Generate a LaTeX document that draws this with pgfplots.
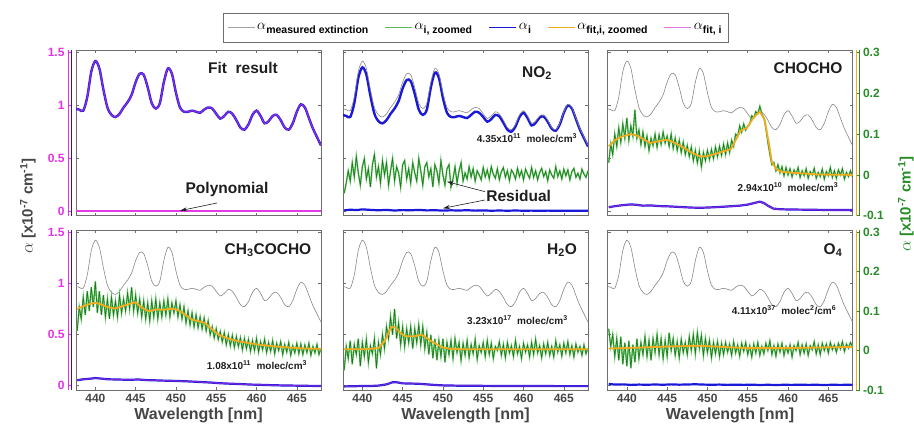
\documentclass[border=0pt]{standalone}
\usepackage{pgfplots}
\pgfplotsset{compat=1.18}
\usepackage{pgfplotstable}
\usepackage{fontspec}
\setmainfont{Liberation Sans}
\usetikzlibrary{arrows.meta}

\definecolor{meas}{RGB}{135,135,135}
\definecolor{gdark}{RGB}{25,120,25}
\definecolor{glight}{RGB}{110,200,110}
\definecolor{orng}{RGB}{240,172,30}
\definecolor{bl}{RGB}{25,25,215}
\definecolor{magc}{RGB}{230,60,230}
\definecolor{magT}{RGB}{230,50,230}
\definecolor{grT}{RGB}{40,140,40}
\definecolor{axgray}{RGB}{110,110,110}
\definecolor{lblgray}{RGB}{70,70,70}
\definecolor{txt}{RGB}{30,30,30}
\definecolor{lgG}{RGB}{90,185,90}
\definecolor{lgO}{RGB}{235,170,30}
\definecolor{lgM}{RGB}{230,120,230}
\definecolor{lgK}{RGB}{160,160,160}

\pgfplotstableread{
wl meas no2
437.5 0.97 0.91
438.0 0.96 0.90
438.5 0.95 0.89
439.0 1.08 1.02
439.5 1.32 1.26
440.0 1.42 1.36
440.5 1.35 1.29
441.0 1.15 1.09
441.5 0.98 0.92
442.0 0.91 0.85
442.5 0.89 0.83
443.0 0.92 0.86
443.5 0.98 0.92
444.0 1.03 0.97
444.5 1.10 1.04
445.0 1.22 1.16
445.5 1.30 1.24
446.0 1.29 1.23
446.5 1.17 1.11
447.0 1.02 0.96
447.5 0.97 0.91
448.0 1.02 0.96
448.5 1.22 1.17
449.0 1.35 1.31
449.5 1.30 1.26
450.0 1.12 1.07
450.5 0.98 0.93
451.0 0.94 0.89
451.5 0.94 0.89
452.0 0.95 0.90
452.5 0.94 0.89
453.0 0.93 0.88
453.5 0.96 0.91
454.0 0.98 0.94
454.5 0.97 0.93
455.0 0.92 0.89
455.5 0.875 0.845
456.0 0.90 0.87
456.5 0.94 0.91
457.0 0.92 0.895
457.5 0.86 0.835
458.0 0.79 0.77
458.5 0.77 0.75
459.0 0.82 0.80
459.5 0.91 0.89
460.0 0.95 0.93
460.5 0.90 0.88
461.0 0.83 0.81
461.5 0.85 0.835
462.0 0.90 0.885
462.5 0.91 0.895
463.0 0.86 0.845
463.5 0.79 0.78
464.0 0.77 0.76
464.5 0.83 0.82
465.0 0.94 0.93
465.5 1.01 1.00
466.0 0.98 0.97
466.5 0.88 0.87
467.0 0.78 0.77
467.5 0.70 0.69
468.0 0.62 0.61
}\meastab

\pgfplotstableread{
wl nores chocho mg h2o o4
437.75 -0.045 0.030 0.050 -0.050 0.055
438.00 -0.020 0.075 0.110 0.010 0.010
438.25 0.010 0.050 0.080 -0.020 0.040
438.50 -0.015 0.100 0.135 0.025 -0.015
438.75 0.030 0.070 0.090 -0.035 0.030
439.00 -0.005 0.115 0.150 0.015 -0.025
439.25 0.045 0.080 0.100 -0.010 0.035
439.50 0.005 0.125 0.160 0.030 -0.035
439.75 -0.025 0.090 0.110 -0.040 0.020
440.00 0.020 0.140 0.175 0.020 -0.040
440.25 0.040 0.085 0.095 -0.015 0.025
440.50 -0.010 0.120 0.150 0.028 -0.045
440.75 0.015 0.095 0.090 -0.030 0.015
441.00 -0.030 0.160 0.140 0.012 -0.030
441.25 0.025 0.090 0.085 -0.008 0.030
441.50 0.050 0.110 0.130 0.030 -0.020
441.75 -0.005 0.075 0.080 -0.045 0.020
442.00 0.020 0.105 0.135 0.020 -0.010
442.25 -0.020 0.070 0.090 -0.010 0.035
442.50 0.035 0.095 0.125 0.040 -0.015
442.75 0.000 0.060 0.085 0.005 0.025
443.00 0.030 0.090 0.140 0.060 -0.025
443.25 -0.025 0.072 0.095 0.030 0.030
443.50 0.010 0.100 0.130 0.085 -0.005
443.75 0.040 0.068 0.100 0.040 0.040
444.00 -0.015 0.098 0.145 0.105 -0.010
444.25 0.020 0.075 0.105 0.030 0.030
444.50 0.005 0.105 0.160 0.070 -0.020
444.75 -0.030 0.078 0.100 0.015 0.025
445.00 0.025 0.095 0.140 0.060 -0.015
445.25 0.035 0.070 0.095 0.010 0.045
445.50 -0.010 0.100 0.130 0.055 0.000
445.75 0.015 0.065 0.085 0.020 0.030
446.00 -0.020 0.090 0.125 0.060 -0.012
446.25 0.030 0.060 0.080 0.005 0.022
446.50 0.005 0.085 0.120 0.055 -0.018
446.75 -0.015 0.055 0.075 0.020 0.028
447.00 0.040 0.080 0.125 0.065 -0.005
447.25 0.010 0.050 0.085 0.015 0.020
447.50 -0.025 0.072 0.130 0.060 -0.010
447.75 0.020 0.045 0.080 0.005 0.035
448.00 0.030 0.068 0.120 0.045 0.000
448.25 -0.005 0.035 0.085 -0.010 0.040
448.50 0.015 0.060 0.125 0.040 -0.008
448.75 -0.030 0.030 0.090 -0.020 0.045
449.00 0.025 0.058 0.130 0.030 0.005
449.25 0.010 0.020 0.085 -0.025 0.038
449.50 -0.020 0.055 0.120 0.025 -0.012
449.75 0.035 0.035 0.095 -0.015 0.030
450.00 0.000 0.060 0.125 0.030 -0.005
450.25 -0.025 0.038 0.085 -0.030 0.025
450.50 0.015 0.062 0.115 0.020 -0.018
450.75 0.025 0.040 0.080 -0.010 0.020
451.00 -0.030 0.068 0.110 0.025 -0.008
451.25 -0.010 0.045 0.070 -0.020 0.022
451.50 0.020 0.070 0.100 0.030 -0.015
451.75 -0.020 0.048 0.065 -0.005 0.018
452.00 0.010 0.075 0.095 0.020 -0.010
452.25 0.030 0.050 0.060 -0.025 0.020
452.50 -0.015 0.078 0.090 0.018 -0.004
452.75 0.005 0.055 0.058 -0.012 0.016
453.00 -0.010 0.085 0.085 0.025 -0.012
453.25 0.020 0.070 0.055 -0.018 0.022
453.50 -0.005 0.100 0.082 0.015 -0.006
453.75 0.015 0.095 0.050 -0.008 0.014
454.00 -0.015 0.120 0.075 0.028 -0.014
454.25 0.010 0.105 0.040 -0.022 0.018
454.50 0.000 0.125 0.060 0.012 -0.002
454.75 -0.012 0.110 0.032 -0.005 0.020
455.00 0.018 0.120 0.055 0.020 -0.010
455.25 -0.005 0.125 0.028 -0.015 0.012
455.50 0.012 0.145 0.048 0.025 -0.016
455.75 -0.010 0.140 0.022 -0.010 0.016
456.00 0.020 0.155 0.045 0.018 -0.006
456.25 0.002 0.150 0.015 -0.020 0.020
456.50 -0.008 0.168 0.040 0.010 -0.012
456.75 0.015 0.150 0.012 0.000 0.010
457.00 -0.012 0.140 0.038 0.022 -0.008
457.25 0.008 0.115 0.008 -0.012 0.018
457.50 0.018 0.080 0.035 0.015 0.000
457.75 -0.006 0.050 0.010 -0.018 0.024
458.00 0.010 0.025 0.032 0.020 -0.010
458.25 -0.014 0.030 0.002 -0.006 0.012
458.50 0.012 0.010 0.030 0.012 -0.014
458.75 0.004 0.025 0.005 -0.015 0.016
459.00 -0.010 0.005 0.028 0.025 -0.004
459.25 0.016 0.020 -0.002 -0.008 0.018
459.50 -0.004 -0.002 0.025 0.010 -0.012
459.75 0.010 0.018 0.000 -0.020 0.010
460.00 -0.012 0.000 0.030 0.018 -0.006
460.25 0.014 0.015 -0.004 -0.004 0.014
460.50 0.002 -0.005 0.022 0.014 -0.016
460.75 -0.008 0.012 0.002 -0.016 0.012
461.00 0.018 0.002 0.028 0.020 0.000
461.25 -0.006 0.018 -0.005 -0.010 0.020
461.50 0.010 -0.006 0.020 0.028 -0.010
461.75 -0.012 0.010 -0.002 -0.006 0.014
462.00 0.006 -0.002 0.025 0.012 -0.006
462.25 0.016 0.015 -0.008 -0.018 0.016
462.50 -0.004 -0.008 0.018 0.016 -0.012
462.75 0.008 0.008 0.000 -0.008 0.012
463.00 -0.014 0.000 0.022 0.020 0.002
463.25 0.012 0.016 -0.010 -0.012 0.022
463.50 0.000 -0.008 0.015 0.010 -0.008
463.75 -0.008 0.006 -0.004 -0.016 0.014
464.00 0.020 -0.004 0.020 0.024 -0.010
464.25 -0.004 0.014 -0.012 -0.004 0.018
464.50 0.010 -0.010 0.012 0.014 0.000
464.75 -0.010 0.008 -0.006 -0.014 0.016
465.00 0.014 -0.002 0.018 0.018 -0.006
465.25 -0.002 0.018 -0.008 -0.006 0.020
465.50 0.012 -0.006 0.016 0.022 0.002
465.75 -0.012 0.010 -0.010 -0.010 0.014
466.00 0.008 -0.008 0.014 0.012 -0.004
466.25 0.016 0.012 -0.005 -0.016 0.018
466.50 -0.006 0.000 0.018 0.016 0.004
466.75 0.004 0.015 -0.012 -0.004 0.022
467.00 -0.010 -0.010 0.010 0.010 -0.002
467.25 0.014 0.006 -0.006 -0.012 0.016
467.50 0.002 -0.004 0.015 0.014 0.006
467.75 -0.006 0.010 -0.010 -0.008 0.020
468.00 0.010 -0.005 0.006 0.006 0.010
}\greentab

\newcommand{\la}[1]{{\fontsize{14}{14}\selectfont$\alpha$}\raisebox{-3.5pt}{\fontsize{10.5}{10.5}\selectfont\bfseries #1}}

\pgfplotsset{
  base/.style={scale only axis, width=245pt, xmin=437.6, xmax=468, anchor=south west,
    tick label style={font=\bfseries\fontsize{12}{12}\selectfont}},
  lscale/.style={base, ymin=-0.045, ymax=1.52,
    xtick={440,445,...,465}, ytick={0,0.5,1,1.5}, yticklabel=\empty, xticklabel=\empty,
    tick align=inside, major tick length=3pt,
    axis line style={axgray, line width=0.6pt}, tick style={axgray, line width=0.5pt}},
  rscale/.style={base, ymin=-0.1, ymax=0.305, hide axis, clip=false},
  rgreen/.style={base, ymin=-0.1, ymax=0.305, clip=false,
    axis x line=none, axis y line*=right, axis y line shift=7pt, xtick=\empty,
    ytick={-0.1,0,0.1,0.2,0.3}, yticklabels={-0.1,0,0.1,0.2,0.3},
    y axis line style={grT, line width=0.8pt}, ytick style={grT, line width=0.6pt},
    yticklabel style={text=grT}, tick align=inside, major tick length=4pt,
    after end axis/.code={\draw[orng, line width=0.8pt] ([xshift=3.5pt]rel axis cs:1,0) -- ([xshift=3.5pt]rel axis cs:1,1);}},
  magaxis/.style={base, ymin=-0.045, ymax=1.52, clip=false,
    axis x line=none, axis y line*=left, axis y line shift=8pt, xtick=\empty,
    ytick={0,0.5,1,1.5}, yticklabels={0,0.5,1,1.5},
    y axis line style={magT, line width=0.8pt}, ytick style={magT, line width=0.6pt},
    yticklabel style={text=magT}, tick align=inside, major tick length=4pt,
    after end axis/.code={\draw[bl, line width=0.8pt] ([xshift=-5pt]rel axis cs:0,0) -- ([xshift=-5pt]rel axis cs:0,1);}},
  bottomrow/.style={xticklabels={440,445,450,455,460,465},
    xticklabel style={text=lblgray, yshift=-1pt},
    xlabel={Wavelength [nm]}, xlabel style={font=\bfseries\fontsize{16}{16}\selectfont, text=lblgray, yshift=2pt}},
  gplot/.style={color=glight, line width=1.6pt},
  gplotd/.style={color=gdark, line width=0.6pt},
}

\begin{document}
\begin{tikzpicture}[x=1pt,y=1pt]
\useasboundingbox (0,0) rectangle (914,433);

% ===== Top-left: Fit result =====
\begin{axis}[lscale, at={(76pt,217.3pt)}, height=165.2pt]
\addplot[color=meas, line width=0.6pt, smooth] table[x=wl,y=meas]{\meastab};
\addplot[color=bl, line width=2.4pt, smooth] table[x=wl,y=meas]{\meastab};
\addplot[color=magc, line width=1.3pt, opacity=0.55, smooth] table[x=wl,y=meas]{\meastab};
\addplot[color=magc, line width=2pt] coordinates {(437.6,-0.004)(468,-0.004)};
\end{axis}
\begin{axis}[magaxis, at={(76pt,217.3pt)}, height=165.2pt]
\end{axis}

% ===== Top-middle: NO2 =====
\begin{axis}[lscale, at={(343pt,217.3pt)}, height=165.2pt]
\addplot[color=bl, line width=2.4pt, smooth] table[x=wl,y=no2]{\meastab};
\addplot[color=meas, line width=0.6pt, smooth] table[x=wl,y=meas]{\meastab};
\addplot[color=bl, line width=2.2pt] coordinates {(437.75,0.005)(438.5,0.012)(439.3,0.008)(440,0.015)(441,0.010)(442,0.006)(443,0.010)(444,0.004)(445,0.008)(446,0.006)(447,0.010)(448,0.005)(449,0.007)(450,0.003)(451,0.006)(452,0.004)(453,0.007)(454,0.003)(455,0.005)(456,0.002)(457,0.004)(458,0.002)(459,0.004)(460,0.002)(461,0.003)(462,0.001)(463,0.003)(464,0.001)(465,0.002)(466,0.001)(467,0.002)(468,0.001)};
\end{axis}
\begin{axis}[rscale, at={(343pt,217.3pt)}, height=165.2pt]
\addplot[gplot] table[x=wl,y=nores]{\greentab};
\addplot[gplotd] table[x=wl,y=nores]{\greentab};
\end{axis}

% ===== Top-right: CHOCHO =====
\begin{axis}[lscale, at={(607.5pt,217.3pt)}, height=165.2pt]
\addplot[color=meas, line width=0.6pt, smooth] table[x=wl,y=meas]{\meastab};
\addplot[color=bl, line width=2.2pt] coordinates {(437.75,0.035)(438.5,0.045)(439.5,0.055)(440.5,0.062)(441.2,0.058)(442,0.050)(443,0.052)(444,0.046)(445,0.044)(446,0.040)(447,0.036)(448,0.032)(449,0.030)(450,0.032)(451,0.036)(452,0.040)(453,0.045)(454,0.050)(455,0.060)(455.8,0.075)(456.5,0.088)(457,0.075)(457.6,0.045)(458.2,0.022)(459,0.016)(460,0.014)(462,0.012)(464,0.010)(466,0.009)(468,0.008)};
\addplot[color=magc, line width=1.2pt, opacity=0.5] coordinates {(437.75,0.035)(438.5,0.045)(439.5,0.055)(440.5,0.062)(441.2,0.058)(442,0.050)(443,0.052)(444,0.046)(445,0.044)(446,0.040)(447,0.036)(448,0.032)(449,0.030)(450,0.032)(451,0.036)(452,0.040)(453,0.045)(454,0.050)(455,0.060)(455.8,0.075)(456.5,0.088)(457,0.075)(457.6,0.045)(458.2,0.022)(459,0.016)(460,0.014)(462,0.012)(464,0.010)(466,0.009)(468,0.008)};
\end{axis}
\begin{axis}[rgreen, at={(607.5pt,217.3pt)}, height=165.2pt]
\addplot[gplot] table[x=wl,y=chocho]{\greentab};
\addplot[gplotd] table[x=wl,y=chocho]{\greentab};
\addplot[color=orng, line width=1.8pt] coordinates {(437.75,0.070)(438.5,0.085)(439.5,0.095)(440.5,0.100)(441.3,0.096)(442,0.088)(442.9,0.078)(444,0.083)(445,0.086)(446,0.078)(447.1,0.066)(448,0.055)(449.1,0.045)(450,0.046)(451.2,0.053)(452,0.058)(452.9,0.063)(453.5,0.085)(454.1,0.108)(454.9,0.115)(455.7,0.140)(456.5,0.155)(457.1,0.135)(457.6,0.080)(458,0.032)(458.5,0.015)(459.1,0.008)(460,0.006)(461.6,0.004)(463.7,0.001)(468,0.000)};
\end{axis}

% ===== Bottom-left: CH3COCHO =====
\begin{axis}[lscale, bottomrow, at={(76pt,43pt)}, height=160pt]
\addplot[color=meas, line width=0.6pt, smooth] table[x=wl,y=meas]{\meastab};
\addplot[color=bl, line width=2.2pt] coordinates {(437.75,0.050)(438.5,0.060)(439.3,0.065)(440,0.072)(440.8,0.066)(441.5,0.060)(442.5,0.058)(443.5,0.056)(444.5,0.055)(445.3,0.058)(446.3,0.052)(447.3,0.050)(448.3,0.047)(449.3,0.045)(450.3,0.043)(451.3,0.040)(452.3,0.036)(453.3,0.032)(454.3,0.028)(455.3,0.022)(456.3,0.018)(457.3,0.015)(458.3,0.012)(459.3,0.008)(460.3,0.006)(461.5,0.003)(463,0.000)(464.5,-0.002)(466,-0.004)(468,-0.006)};
\addplot[color=magc, line width=1.2pt, opacity=0.45] coordinates {(437.75,0.050)(438.5,0.060)(439.3,0.065)(440,0.072)(440.8,0.066)(441.5,0.060)(442.5,0.058)(443.5,0.056)(444.5,0.055)(445.3,0.058)(446.3,0.052)(447.3,0.050)(448.3,0.047)(449.3,0.045)(450.3,0.043)(451.3,0.040)(452.3,0.036)(453.3,0.032)(454.3,0.028)(455.3,0.022)(456.3,0.018)(457.3,0.015)(458.3,0.012)(459.3,0.008)(460.3,0.006)(461.5,0.003)(463,0.000)(464.5,-0.002)(466,-0.004)(468,-0.006)};
\end{axis}
\begin{axis}[rscale, at={(76pt,43pt)}, height=160pt]
\addplot[gplot] table[x=wl,y=mg]{\greentab};
\addplot[gplotd] table[x=wl,y=mg]{\greentab};
\addplot[color=orng, line width=1.8pt] coordinates {(437.75,0.105)(438.5,0.112)(439.3,0.118)(440,0.121)(440.8,0.116)(441.5,0.110)(442.5,0.106)(443.3,0.112)(444.2,0.118)(445,0.122)(445.8,0.108)(446.6,0.099)(447.5,0.104)(448.5,0.103)(449.5,0.106)(450.3,0.102)(451.2,0.090)(452,0.078)(452.8,0.074)(453.6,0.070)(454.4,0.055)(455.3,0.040)(456.5,0.030)(457.8,0.023)(459,0.019)(460.2,0.015)(461.5,0.012)(463,0.009)(464.5,0.007)(466,0.005)(468,0.004)};
\end{axis}
\begin{axis}[magaxis, at={(76pt,43pt)}, height=160pt]
\end{axis}

% ===== Bottom-middle: H2O =====
\begin{axis}[lscale, bottomrow, at={(343pt,43pt)}, height=160pt]
\addplot[color=meas, line width=0.6pt, smooth] table[x=wl,y=meas]{\meastab};
\addplot[color=bl, line width=2.2pt] coordinates {(437.75,-0.010)(439,-0.008)(440,-0.006)(441,-0.006)(442,-0.002)(443,0.010)(443.8,0.032)(444.3,0.030)(445,0.020)(446,0.018)(447,0.016)(448,0.010)(449,0.004)(450,0.000)(452,-0.003)(454,-0.004)(456,-0.005)(458,-0.005)(460,-0.006)(462,-0.006)(464,-0.007)(466,-0.007)(468,-0.007)};
\addplot[color=magc, line width=1.2pt, opacity=0.4] coordinates {(437.75,-0.010)(439,-0.008)(440,-0.006)(441,-0.006)(442,-0.002)(443,0.010)(443.8,0.032)(444.3,0.030)(445,0.020)(446,0.018)(447,0.016)(448,0.010)(449,0.004)(450,0.000)(452,-0.003)(454,-0.004)(456,-0.005)(458,-0.005)(460,-0.006)(462,-0.006)(464,-0.007)(466,-0.007)(468,-0.007)};
\end{axis}
\begin{axis}[rscale, at={(343pt,43pt)}, height=160pt]
\addplot[gplot] table[x=wl,y=h2o]{\greentab};
\addplot[gplotd] table[x=wl,y=h2o]{\greentab};
\addplot[color=orng, line width=1.8pt] coordinates {(437.75,0.003)(440,0.003)(442,0.006)(442.8,0.025)(443.6,0.060)(444.1,0.058)(444.7,0.045)(445.3,0.036)(446.5,0.036)(447.4,0.040)(448.6,0.023)(449.9,0.008)(451,0.004)(452.8,0.003)(468,0.003)};
\end{axis}

% ===== Bottom-right: O4 =====
\begin{axis}[lscale, bottomrow, at={(607.5pt,43pt)}, height=160pt]
\addplot[color=meas, line width=0.6pt, smooth] table[x=wl,y=meas]{\meastab};
\addplot[color=bl, line width=2.2pt] coordinates {(437.75,0.015)(438.5,0.008)(439.5,0.010)(440.5,0.005)(441.5,0.008)(442.5,0.006)(443.5,0.009)(444.5,0.006)(445.5,0.010)(446.5,0.007)(447.5,0.009)(448.5,0.011)(449.5,0.008)(450.5,0.006)(451.5,0.008)(452.5,0.005)(453.5,0.007)(454.5,0.005)(455.5,0.007)(456.5,0.004)(457.5,0.006)(458.5,0.004)(459.5,0.006)(460.5,0.005)(461.5,0.007)(462.5,0.005)(463.5,0.006)(464.5,0.004)(465.5,0.006)(466.5,0.005)(467.5,0.006)(468,0.005)};
\end{axis}
\begin{axis}[rgreen, at={(607.5pt,43pt)}, height=160pt]
\addplot[gplot] table[x=wl,y=o4]{\greentab};
\addplot[gplotd] table[x=wl,y=o4]{\greentab};
\addplot[color=orng, line width=1.8pt] coordinates {(437.75,0.005)(441,0.007)(445,0.010)(449,0.012)(452,0.009)(455,0.006)(460,0.006)(465,0.008)(468,0.009)};
\end{axis}

% ===== Legend =====
\draw[axgray, fill=white, line width=0.7pt] (223,391) rectangle (728,420);
\begin{axis}[scale only axis, width=914pt, height=433pt, at={(0pt,0pt)}, anchor=south west,
  xmin=0, xmax=914, ymin=0, ymax=433, hide axis,
  legend columns=5,
  legend style={at={(axis description cs:0.5202,0.9365)}, anchor=center,
    draw=none, fill=none, inner xsep=0pt, inner ysep=1pt,
    font=\bfseries\fontsize{10.5}{12}\selectfont,
    /tikz/every even column/.append style={column sep=14pt}},
  legend cell align=left]
\addlegendimage{legend image code/.code={\draw[lgK, line width=0.9pt] (0pt,0pt) -- (27pt,0pt);}}
\addlegendentry{\la{measured extinction}}
\addlegendimage{legend image code/.code={\draw[lgG, line width=1.3pt] (0pt,0pt) -- (27pt,0pt);}}
\addlegendentry{\la{i, zoomed}}
\addlegendimage{legend image code/.code={\draw[bl, line width=1.8pt] (0pt,0pt) -- (27pt,0pt);}}
\addlegendentry{\la{i}}
\addlegendimage{legend image code/.code={\draw[lgO, line width=1.4pt] (0pt,0pt) -- (27pt,0pt);}}
\addlegendentry{\la{fit,i, zoomed}}
\addlegendimage{legend image code/.code={\draw[lgM, line width=1.3pt] (0pt,0pt) -- (27pt,0pt);}}
\addlegendentry{\la{fit, i}}
\end{axis}

% ===== Axis labels =====
\node[rotate=90, text=lblgray, font=\bfseries\fontsize{15}{15}\selectfont] at (28,227) {{\fontsize{17}{17}\selectfont$\alpha$} [x10\textsuperscript{-7} cm\textsuperscript{-1}]};
\node[rotate=90, text=grT, font=\bfseries\fontsize{15}{15}\selectfont] at (906,229) {{\fontsize{17}{17}\selectfont$\alpha$} [x10\textsuperscript{-7} cm\textsuperscript{-1}]};

% ===== Annotations =====
\begin{scope}[every node/.style={text=txt, font=\bfseries\fontsize{15.5}{16}\selectfont}]
\node at (243,365) {Fit\ \ result};
\node at (227,244) {Polynomial};
\node at (537,360) {NO\textsubscript{2}};
\node at (518.7,237) {Residual};
\node at (808,365) {CHOCHO};
\node at (268,183) {CH\textsubscript{3}COCHO};
\node at (562,183) {H\textsubscript{2}O};
\node at (833,183) {O\textsubscript{4}};
\end{scope}
\begin{scope}[every node/.style={text=txt, font=\bfseries\fontsize{10}{11}\selectfont}]
\node at (527,295) {4.35x10\textsuperscript{11}\ \ molec/cm\textsuperscript{3}};
\node at (788,246) {2.94x10\textsuperscript{10}\ \ molec/cm\textsuperscript{3}};
\node at (257,68) {1.08x10\textsuperscript{11}\ \ molec/cm\textsuperscript{3}};
\node at (517.5,113) {3.23x10\textsuperscript{17}\ \ molec/cm\textsuperscript{3}};
\node at (784,123) {4.11x10\textsuperscript{37}\ \ molec\textsuperscript{2}/cm\textsuperscript{6}};
\end{scope}
\draw[txt, line width=0.6pt, -{Stealth[length=7pt,width=4pt]}] (217,230) -- (180,222.3);
\draw[txt, line width=0.6pt, -{Stealth[length=7pt,width=4pt]}] (485,241.3) -- (447,251.3);
\draw[txt, line width=0.6pt, -{Stealth[length=7pt,width=4pt]}] (485,233) -- (443,224.7);
\end{tikzpicture}
\end{document}
